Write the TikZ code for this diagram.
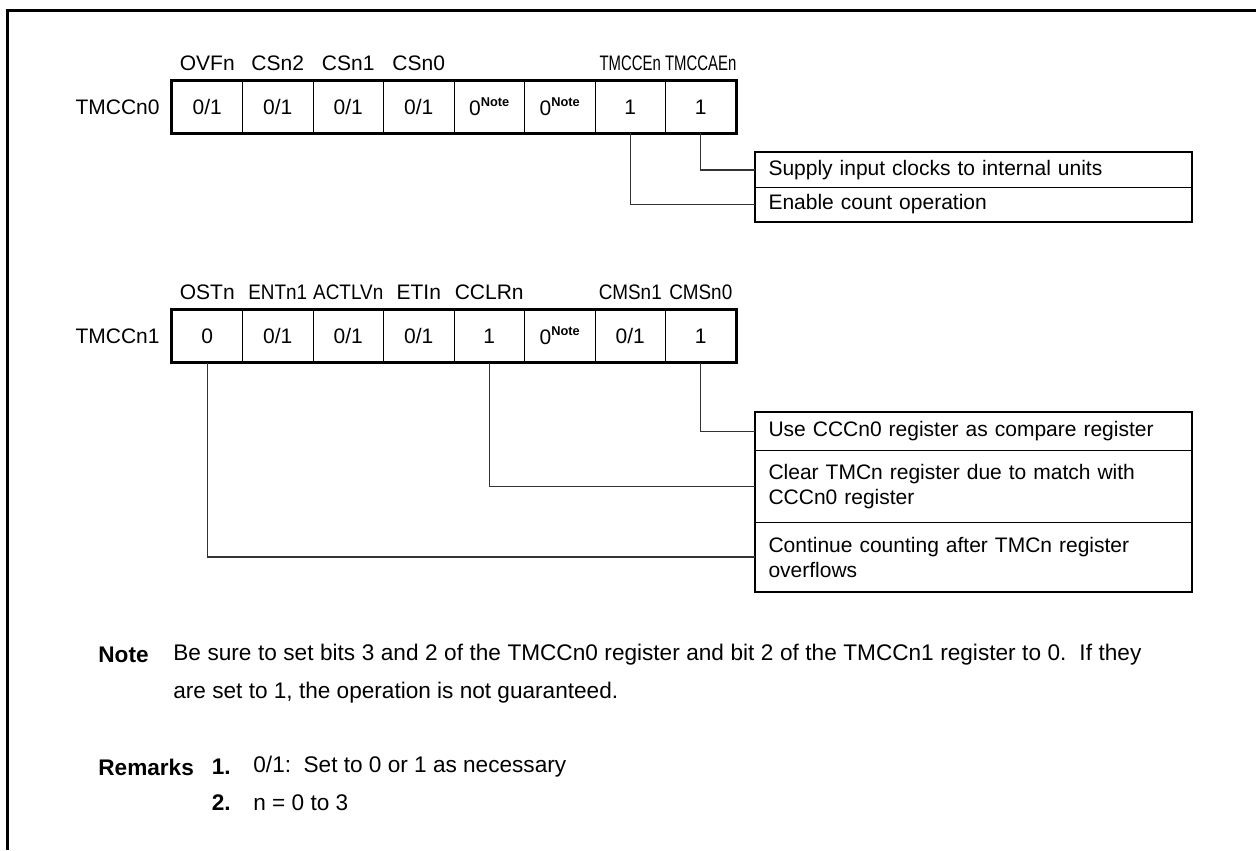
\documentclass[tikz,border=0pt]{standalone}
\usepackage{fontspec}
\setmainfont{Liberation Sans}
\newcommand\zeroNote{0\raisebox{0.42em}{\fontsize{6.4}{7}\selectfont\bfseries Note}}
\newcommand\cond[1]{\scalebox{0.71}[1]{#1}}
\newcommand\slim[1]{\scalebox{0.9}[1]{#1}}
\tikzset{
  every node/.style={font=\fontsize{10.5}{12.5}\selectfont, inner sep=0pt},
  cell/.style={draw, line width=0.5pt, minimum width=35.25pt, minimum height=26pt},
  desc/.style={draw, line width=0.5pt, text width=205pt, align=left, inner xsep=6.5pt, anchor=north west},
  conn/.style={line width=0.6pt, black!80},
  outer/.style={line width=1.1pt},
  notefont/.style={font=\fontsize{11.3}{13}\selectfont, anchor=west},
}
\begin{document}
\begin{tikzpicture}[x=0.5pt,y=-0.5pt]
\useasboundingbox (0,0) rectangle (1256,850);
% frame
\draw[line width=1.5pt] (7,850) -- (7,11) -- (1256,11);

% ---------- TMCCn0 ----------
\node[anchor=east] (n0) at (160,107) {TMCCn0};
\node[cell] (r0c1) at (207.25,107) {0/1};
\node[cell] (r0c2) at (277.75,107) {0/1};
\node[cell] (r0c3) at (348.25,107) {0/1};
\node[cell] (r0c4) at (418.75,107) {0/1};
\node[cell] (r0c5) at (489.25,107) {\zeroNote};
\node[cell] (r0c6) at (559.75,107) {\zeroNote};
\node[cell] (r0c7) at (630.25,107) {1};
\node[cell] (r0c8) at (700.75,107) {1};
\draw[outer] (r0c1.north west) rectangle (r0c8.south east);

\node (l0c1) at (207.25,63) {OVFn};
\node (l0c2) at (277.75,63) {CSn2};
\node (l0c3) at (348.25,63) {CSn1};
\node (l0c4) at (418.75,63) {CSn0};
\node (l0c7) at (630.25,63) {\cond{TMCCEn}};
\node (l0c8) at (700.75,63) {\cond{TMCCAEn}};

\node[desc, minimum height=17.5pt] (d0a) at (755,152) {Supply input clocks to internal units};
\node[desc, minimum height=17pt] (d0b) at (755,187) {Enable count operation};
\draw[outer] (d0a.north west) rectangle (d0b.south east);

\draw[conn] (r0c8.south) |- (d0a.west);
\draw[conn] (r0c7.south) |- (d0b.west);

% ---------- TMCCn1 ----------
\node[anchor=east] (n1) at (160,336) {TMCCn1};
\node[cell] (r1c1) at (207.25,336) {0};
\node[cell] (r1c2) at (277.75,336) {0/1};
\node[cell] (r1c3) at (348.25,336) {0/1};
\node[cell] (r1c4) at (418.75,336) {0/1};
\node[cell] (r1c5) at (489.25,336) {1};
\node[cell] (r1c6) at (559.75,336) {\zeroNote};
\node[cell] (r1c7) at (630.25,336) {0/1};
\node[cell] (r1c8) at (700.75,336) {1};
\draw[outer] (r1c1.north west) rectangle (r1c8.south east);

\node (l1c1) at (207.25,292) {OSTn};
\node (l1c2) at (277.75,292) {\slim{ENTn1}};
\node (l1c3) at (348.25,292) {\slim{ACTLVn}};
\node (l1c4) at (418.75,292) {ETIn};
\node (l1c5) at (489.25,292) {CCLRn};
\node (l1c7) at (630.25,292) {\slim{CMSn1}};
\node (l1c8) at (700.75,292) {\slim{CMSn0}};

\node[desc, minimum height=19pt] (d1a) at (755,412) {Use CCCn0 register as compare register};
\node[desc, minimum height=36pt] (d1b) at (755,450) {Clear TMCn register due to match with\\CCCn0 register};
\node[desc, minimum height=34.5pt] (d1c) at (755,522) {Continue counting after TMCn register\\overflows};
\draw[outer] (d1a.north west) rectangle (d1c.south east);

\draw[conn] (r1c8.south) |- (d1a.west);
\draw[conn] (r1c5.south) |- (d1b.west);
\draw[conn] (r1c1.south) |- (d1c.west);

% ---------- Note and remarks ----------
\node[notefont] (noteh) at (98,655) {\bfseries Note};
\node[notefont] (note1) at (173,655) {\makebox[484pt][s]{Be sure to set bits 3 and 2 of the TMCCn0 register and bit 2 of the TMCCn1 register to 0.\ \ If they}};
\node[notefont] (note2) at (173,693) {are set to 1, the operation is not guaranteed.};

\node[notefont] (remh) at (98,767) {\bfseries Remarks};
\node[notefont, anchor=east] (rem1n) at (231,767) {\bfseries 1.};
\node[notefont] (rem1) at (253,767) {0/1:\ \ Set to 0 or 1 as necessary};
\node[notefont, anchor=east] (rem2n) at (231,803) {\bfseries 2.};
\node[notefont] (rem2) at (253,803) {n = 0 to 3};
\end{tikzpicture}
\end{document}
